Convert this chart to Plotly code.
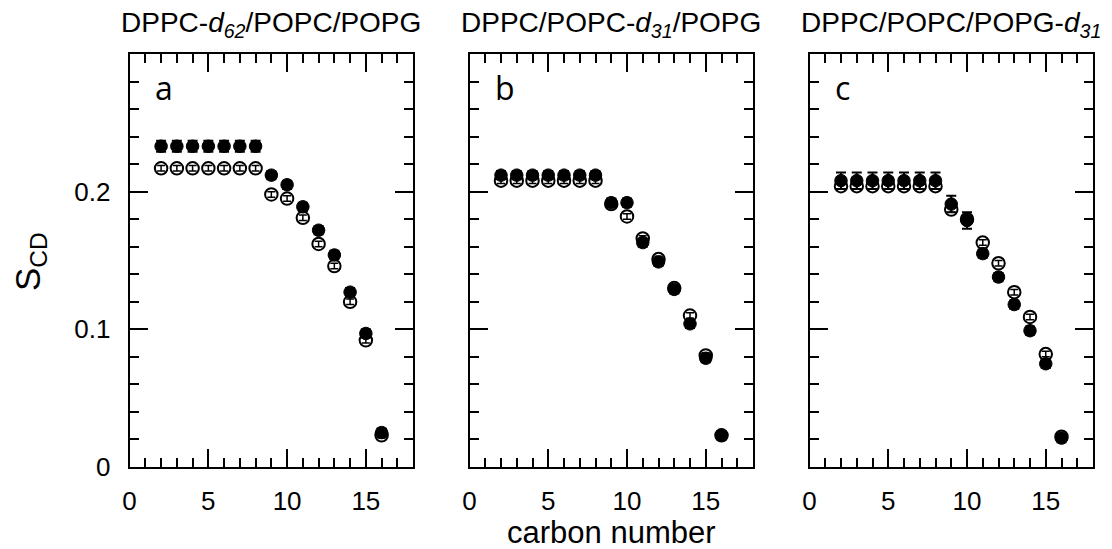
import plotly.graph_objects as go

carbons = [2, 3, 4, 5, 6, 7, 8, 9, 10, 11, 12, 13, 14, 15, 16]

a_filled = [0.233, 0.233, 0.233, 0.233, 0.233, 0.233, 0.233, 0.212, 0.205, 0.189, 0.172, 0.154, 0.127, 0.097, 0.025]
a_filled_err = [0.004, 0.004, 0.004, 0.004, 0.004, 0.004, 0.004, 0.003, 0.003, 0.003, 0.003, 0.003, 0.003, 0.003, 0.003]
a_open = [0.217, 0.217, 0.217, 0.217, 0.217, 0.217, 0.217, 0.198, 0.195, 0.181, 0.162, 0.146, 0.120, 0.092, 0.023]
a_open_err = [0.002, 0.002, 0.002, 0.002, 0.002, 0.002, 0.002, 0.002, 0.002, 0.002, 0.002, 0.002, 0.002, 0.002, 0.002]

b_filled = [0.212, 0.212, 0.212, 0.212, 0.212, 0.212, 0.212, 0.192, 0.192, 0.163, 0.149, 0.129, 0.104, 0.079, 0.023]
b_filled_err = [0.003, 0.003, 0.003, 0.003, 0.003, 0.003, 0.003, 0.003, 0.003, 0.003, 0.003, 0.003, 0.003, 0.003, 0.003]
b_open = [0.208, 0.208, 0.208, 0.208, 0.208, 0.208, 0.208, 0.191, 0.182, 0.166, 0.151, 0.130, 0.110, 0.081, 0.023]
b_open_err = [0.002, 0.002, 0.002, 0.002, 0.002, 0.002, 0.002, 0.002, 0.002, 0.002, 0.002, 0.002, 0.002, 0.002, 0.002]

c_filled = [0.208, 0.208, 0.208, 0.208, 0.208, 0.208, 0.208, 0.191, 0.179, 0.155, 0.138, 0.118, 0.099, 0.075, 0.021]
c_filled_err = [0.006, 0.006, 0.006, 0.006, 0.006, 0.006, 0.006, 0.006, 0.006, 0.003, 0.003, 0.003, 0.003, 0.003, 0.003]
c_open = [0.204, 0.204, 0.204, 0.204, 0.204, 0.204, 0.204, 0.187, 0.180, 0.163, 0.148, 0.127, 0.109, 0.082, 0.022]
c_open_err = [0.002, 0.002, 0.002, 0.002, 0.002, 0.002, 0.002, 0.002, 0.002, 0.002, 0.002, 0.002, 0.002, 0.002, 0.002]

panel_titles = [
    "DPPC-<i>d</i><sub><i>62</i></sub>/POPC/POPG",
    "DPPC/POPC-<i>d</i><sub><i>31</i></sub>/POPG",
    "DPPC/POPC/POPG-<i>d</i><sub><i>31</i></sub>",
]
panel_letters = ["a", "b", "c"]
x_tick_vals = [0, 5, 10, 15]
y_tick_vals = [0, 0.1, 0.2]
y_tick_text = ["0", "0.1", "0.2"]

W, H = 1112, 549
FONT = "Liberation Sans, Arial, sans-serif"

panels = [
    (a_filled, a_filled_err, a_open, a_open_err),
    (b_filled, b_filled_err, b_open, b_open_err),
    (c_filled, c_filled_err, c_open, c_open_err),
]
x_left_px = [129.6, 469.5, 809.5]
x_width_px = 283.5
y_top_px, y_bot_px = 54, 467

fig = go.Figure()

for i, (f, fe, o, oe) in enumerate(panels):
    xa = "x" if i == 0 else f"x{i+1}"
    ya = "y" if i == 0 else f"y{i+1}"
    # open markers
    fig.add_trace(go.Scatter(
        x=carbons, y=o, mode="markers", xaxis=xa, yaxis=ya, showlegend=False,
        marker=dict(symbol="circle", size=12.5, color="white", line=dict(color="black", width=2)),
    ))
    # open error bars drawn over the white fill
    fig.add_trace(go.Scatter(
        x=carbons, y=o, mode="markers", xaxis=xa, yaxis=ya, showlegend=False,
        marker=dict(size=1, color="rgba(0,0,0,0)"),
        error_y=dict(type="data", array=oe, visible=True, color="black", thickness=1.5, width=4),
    ))
    # filled markers
    fig.add_trace(go.Scatter(
        x=carbons, y=f, mode="markers", xaxis=xa, yaxis=ya, showlegend=False,
        marker=dict(symbol="circle", size=12.5, color="black", line=dict(color="black", width=1)),
        error_y=dict(type="data", array=fe, visible=True, color="black", thickness=2, width=5),
    ))

layout = dict(
    width=W, height=H,
    margin=dict(l=0, r=0, t=0, b=0, autoexpand=False),
    paper_bgcolor="white", plot_bgcolor="white",
    font=dict(family=FONT, color="black", size=26),
    showlegend=False,
)

ydom = [1 - y_bot_px / H, 1 - y_top_px / H]
annotations = []
for i in range(3):
    sfx = "" if i == 0 else str(i + 1)
    x0 = x_left_px[i] / W
    x1 = (x_left_px[i] + x_width_px) / W
    layout["xaxis" + sfx] = dict(
        domain=[x0, x1], range=[0, 18], anchor="y" + sfx, automargin=False,
        tickmode="array", tickvals=x_tick_vals,
        ticks="inside", ticklen=18, tickwidth=2, tickcolor="black",
        showline=True, linecolor="black", linewidth=2, mirror="ticks",
        showgrid=False, zeroline=False,
        tickfont=dict(family=FONT, size=26, color="black"),
        ticklabelstandoff=10,
        minor=dict(tickmode="linear", tick0=0, dtick=1, ticks="inside", ticklen=9,
                   tickwidth=2, tickcolor="black", showgrid=False),
    )
    layout["yaxis" + sfx] = dict(
        domain=ydom, range=[0, 0.3], anchor="x" + sfx, automargin=False,
        tickmode="array", tickvals=y_tick_vals, ticktext=y_tick_text,
        showticklabels=(i == 0),
        ticks="inside", ticklen=18, tickwidth=2, tickcolor="black",
        showline=True, linecolor="black", linewidth=2, mirror="ticks",
        showgrid=False, zeroline=False,
        tickfont=dict(family=FONT, size=26, color="black"),
        ticklabelstandoff=12,
        minor=dict(tickmode="linear", tick0=0, dtick=0.02, ticks="inside", ticklen=9,
                   tickwidth=2, tickcolor="black", showgrid=False),
    )
    annotations.append(dict(
        text=panel_titles[i], xref="paper", yref="paper",
        x=(x0 + x1) / 2, y=1 - 24 / H, xanchor="center", yanchor="middle",
        showarrow=False, font=dict(family=FONT, size=28, color="black"),
    ))
    annotations.append(dict(
        text=panel_letters[i], xref="x" + sfx, yref="y" + sfx,
        x=1.5, y=0.276, xanchor="left", yanchor="middle",
        showarrow=False, font=dict(family="Open Sans, sans-serif", size=32, color="black"),
    ))

annotations.append(dict(
    text="S<sub>CD</sub>", xref="paper", yref="paper",
    x=30 / W, y=1 - 262 / H, xanchor="center", yanchor="middle", textangle=-90,
    showarrow=False, font=dict(family=FONT, size=35, color="black"),
))
annotations.append(dict(
    text="carbon number", xref="paper", yref="paper",
    x=(x_left_px[1] + x_width_px / 2) / W, y=1 - 532 / H, xanchor="center", yanchor="middle",
    showarrow=False, font=dict(family=FONT, size=31, color="black"),
))
layout["annotations"] = annotations

fig.update_layout(**layout)
fig.write_html("out.html", config={"displayModeBar": False},
               post_script="document.body.style.margin='0';")
